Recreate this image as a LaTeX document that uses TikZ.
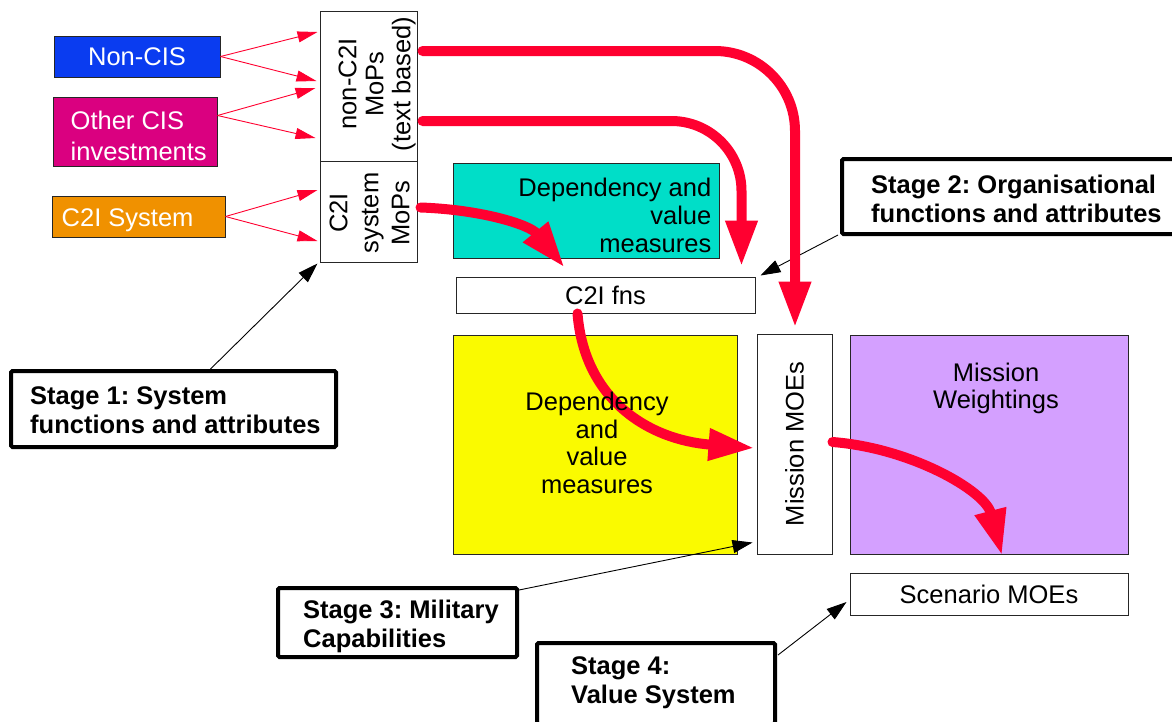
\documentclass[tikz,border=0pt]{standalone}
\usepackage{fontspec}
\setmainfont{Liberation Sans}
\usetikzlibrary{arrows.meta,calc}
\frenchspacing

\definecolor{flowred}{RGB}{255,0,48}
\definecolor{noncis}{RGB}{10,60,240}
\definecolor{othercis}{RGB}{218,0,128}
\definecolor{sysorange}{RGB}{240,145,0}
\definecolor{depcyan}{RGB}{0,222,200}
\definecolor{depyellow}{RGB}{250,250,0}
\definecolor{weightviolet}{RGB}{212,160,255}

\tikzset{
  txt/.style={font=\fontsize{25.5}{28.5}\selectfont, inner sep=0pt},
  stagetxt/.style={font=\bfseries\fontsize{25.5}{29}\selectfont, inner sep=0pt, align=left, anchor=west},
  box/.style={draw=black!85, line width=1pt, inner sep=0pt, align=center,
              font=\fontsize{25.5}{28.5}\selectfont},
  stagebox/.style={draw=black, line width=4pt, rounded corners=1.5pt, fill=white, inner sep=0pt},
  thinred/.style={draw=flowred, line width=0.9pt, -{Triangle[length=20pt,width=11pt]}},
  pointer/.style={draw=black, line width=0.9pt, -{Triangle[length=20pt,width=13pt]}},
  bigred/.style={draw=flowred, line width=10pt, line cap=round, -{Triangle[length=46pt,width=30pt]}},
}

\begin{document}
\begin{tikzpicture}[x=1pt, y=-1pt]
\useasboundingbox (0,0) rectangle (1172,721);
\fill[white] (0,0) rectangle (1172,721);

% ---- investment sources ----
\node[box, fill=noncis, text=white, minimum width=166pt, minimum height=41pt] (ncis) at (137,56.5) {Non-CIS};
\node[box, fill=othercis, minimum width=164pt, minimum height=69pt] (ocis) at (135,131.5) {};
\node[txt, text=white, align=left, anchor=west, font=\fontsize{25.5}{31}\selectfont] (ocistext)
      at ($(ocis.west)+(18,4)$) {Other CIS\\investments};
\node[box, fill=sysorange, minimum width=173pt, minimum height=41pt] (csys) at (138.5,216.5) {};
\node[txt, text=white, anchor=base west] (csystext) at ($(csys.west)+(10,9.5)$) {C2I System};

% ---- measures of performance ----
\node[box, fill=white, minimum width=97pt, minimum height=150pt] (nm) at (368.5,86) {};
\node[txt, rotate=90, align=center, font=\fontsize{25.5}{27}\selectfont] (nmtext)
      at ($(nm.center)+(8.5,-2)$) {non-C2I\\MoPs\\(text based)};
\node[box, fill=white, minimum width=97pt, minimum height=101pt] (sm) at (368.5,211.5) {};
\node[txt, rotate=90, align=center, font=\fontsize{25.5}{31}\selectfont] (smtext)
      at ($(sm.center)+(1,1.5)$) {C2I\\system\\MoPs};

% ---- functions, dependencies and effectiveness ----
\node[box, fill=depcyan, minimum width=266pt, minimum height=95pt] (cy) at (586,210.5) {};
\node[txt, align=right, anchor=east, font=\fontsize{25.5}{28}\selectfont] (cytext)
      at ($(cy.east)+(-8,4.5)$) {Dependency and\\value\\measures};
\node[box, fill=white, minimum width=299pt, minimum height=36pt] (fns) at (605.5,295) {C2I fns};
\node[box, fill=depyellow, minimum width=284pt, minimum height=219pt] (yb) at (595,444.5) {};
\node[box, fill=white, minimum width=75pt, minimum height=220pt] (mm) at (794.5,444) {\rotatebox{90}{Mission MOEs}};
\node[box, fill=weightviolet, minimum width=278pt, minimum height=219pt] (pw) at (989,444.5) {};
\node[txt, align=center, font=\fontsize{25.5}{27}\selectfont] (pwtext)
      at ($(pw.north)+(7,53.5)$) {Mission\\Weightings};
\node[box, fill=white, minimum width=278pt, minimum height=42pt] (sc) at (989,594) {Scenario MOEs};

% ---- stage call-outs ----
\node[stagebox, minimum width=325pt, minimum height=76pt] (st1) at (173.5,409) {};
\node[stagetxt] (st1text) at ($(st1.west)+(21,1.5)$) {Stage 1: System\\functions and attributes};
\node[stagebox, minimum width=358pt, minimum height=75pt] (st2) at (1021,196.5) {};
\node[stagetxt] (st2text) at ($(st2.west)+(31,2.5)$) {Stage 2: Organisational\\functions and attributes};
\node[stagebox, minimum width=239pt, minimum height=69pt] (st3) at (397.5,622.5) {};
\node[stagetxt] (st3text) at ($(st3.west)+(27,3.5)$) {Stage 3: Military\\Capabilities};
\node[stagebox, minimum width=238pt, minimum height=81pt] (st4) at (656,683.5) {};
\node[stagetxt] (st4text) at ($(st4.west)+(36,-1)$) {Stage 4:\\Value System};

% ---- inputs into the MoPs ----
\draw[thinred] (ncis.east) -- ($(nm.west)+(-2,-54)$);
\draw[thinred] (ncis.east) -- ($(nm.west)+(-3,-5)$);
\draw[thinred] ($(ocis.east)+(0,-16)$) -- ($(nm.west)+(-4,2)$);
\draw[thinred] ($(ocis.east)+(0,-16)$) -- ($(nm.west)+(-4,52)$);
\draw[thinred] (csys.east) -- ($(sm.west)+(-2,-21.5)$);
\draw[thinred] (csys.east) -- ($(sm.west)+(-2,29.5)$);

% ---- stage pointers ----
\draw[pointer] ($(st1.north)+(37,0)$) -- ($(sm.south west)+(-2,1)$);
\draw[pointer] ($(st2.south west)+(-2,-1)$) -- ($(fns.north east)+(5,-1)$);
\draw[pointer] ($(st3.north east)+(0,4)$) -- ($(mm.south west)+(-4,-12)$);
\draw[pointer] ($(st4.north east)+(1,14)$) -- ($(sc.west)+(-3,8)$);

% ---- main flows ----
\draw[bigred, rounded corners=80pt] ($(nm.east)+(5,-35)$) -| ($(mm.north)+(0.5,-6)$);
\draw[bigred, rounded corners=70pt] ($(nm.east)+(5,35)$) -| ($(fns.north east)+(-14,-10)$);
\draw[bigred] ($(sm.east)+(3,-4)$) .. controls +(60,2) and +(-35,-43) .. ($(fns.north west)+(109,-9)$);
\draw[bigred] ($(fns.south west)+(122,0)$) .. controls +(7,87) and +(-105,-8) .. ($(mm.west)+(-2,4)$);
\draw[bigred] ($(mm.east)+(0,-2)$) .. controls +(78,6) and +(-17,-65) .. ($(pw.south)+(13,1)$);

% text of the yellow panel sits above the flow crossing it
\node[txt, align=center, font=\fontsize{25.5}{27.5}\selectfont] (ybtext)
      at ($(yb.center)+(2,-1.5)$) {Dependency\\and\\value\\measures};
\end{tikzpicture}
\end{document}
